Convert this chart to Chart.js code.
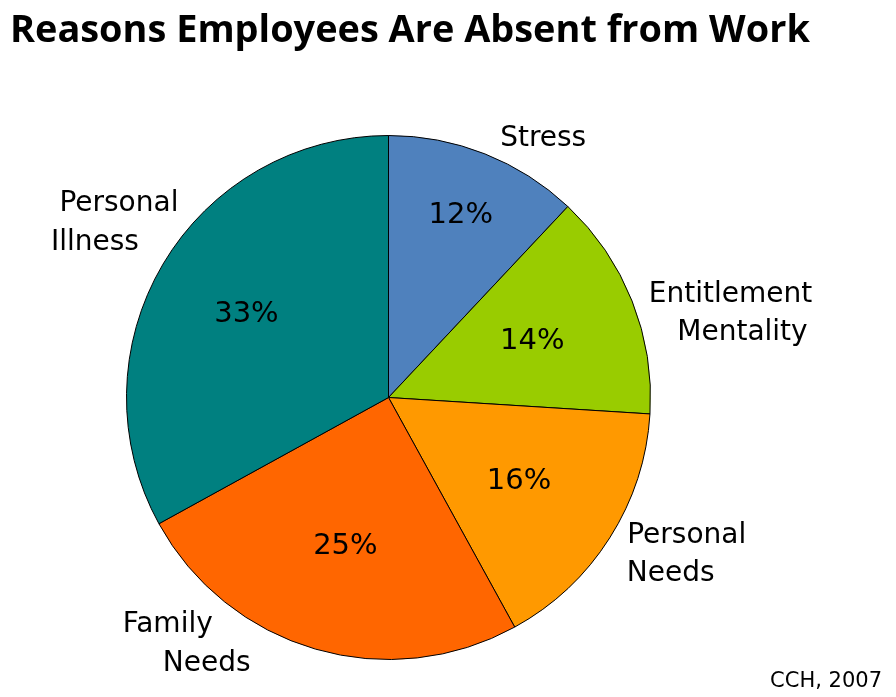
<!DOCTYPE html>
<html>
<head>
<meta charset="utf-8">
<script src="https://cdn.jsdelivr.net/npm/chart.js@4"></script>
<style>
  html, body { margin: 0; padding: 0; background: #fff; }
  canvas { display: block; }
</style>
</head>
<body>
<canvas id="chart" width="896" height="697"></canvas>
<script>
// ===== data =====
const chartTitle = "Reasons Employees Are Absent from Work";
const sourceNote = "CCH, 2007";
const categories = [["Stress"], ["Entitlement", "Mentality"], ["Personal", "Needs"], ["Family", "Needs"], ["Personal", "Illness"]];
const shares = [12, 14, 16, 25, 33];
const sliceColors = ["#4F81BD", "#99CC00", "#FF9900", "#FF6600", "#008080"];

// label placement (relative to each slice's middle)
const pctRadius = [0.75, 0.59, 0.59, 0.59, 0.63];
const nameRadius = [1.153, 1.367, 1.258, 1.213, 1.266];
const nameAngleShift = [9.2, 7.9, -4.1, 23.1, 1.3];      // degrees, clockwise
const nameLineShift = [[0], [-6, 6], [8, -8], [-19.5, 19.5], [12, -12]];

const labelFont = '"DejaVu Sans", sans-serif';

const labelsPlugin = {
    id: 'pieLabels',
    afterDatasetsDraw(chart) {
        const ctx = chart.ctx;
        const arcs = chart.getDatasetMeta(0).data;
        ctx.save();
        ctx.fillStyle = '#000';
        ctx.textBaseline = 'middle';
        ctx.textAlign = 'center';

        arcs.forEach((arc, i) => {
            const mid = (arc.startAngle + arc.endAngle) / 2;
            const r = arc.outerRadius;
            // percentage inside
            ctx.font = '29px ' + labelFont;
            ctx.fillText(shares[i] + '%', arc.x + Math.cos(mid) * r * pctRadius[i], arc.y + Math.sin(mid) * r * pctRadius[i] + 1);

            // category name outside
            const a = mid + nameAngleShift[i] * Math.PI / 180;
            const cx = arc.x + Math.cos(a) * r * nameRadius[i];
            const cy = arc.y + Math.sin(a) * r * nameRadius[i];
            const lines = categories[i];
            const lh = 38.5;
            ctx.font = '28px ' + labelFont;
            lines.forEach((txt, j) => {
                ctx.fillText(txt, cx + nameLineShift[i][j], cy + (j - (lines.length - 1) / 2) * lh + 1);
            });
        });

        // title
        ctx.textAlign = 'left';
        ctx.textBaseline = 'alphabetic';
        ctx.font = 'bold 100px "Open Sans", sans-serif';
        const w = ctx.measureText(chartTitle).width;
        const size = 100 * 800 / w;
        ctx.font = 'bold ' + size.toFixed(1) + 'px "Open Sans", sans-serif';
        ctx.fillText(chartTitle, 10, 42);

        // source
        ctx.textAlign = 'right';
        ctx.font = '21px ' + labelFont;
        ctx.fillText(sourceNote, 882, 687);
        ctx.restore();
    }
};

const chart = new Chart(document.getElementById('chart').getContext('2d'), {
    type: 'pie',
    data: {
        labels: categories.map(c => c.join(' ')),
        datasets: [{
            data: shares,
            backgroundColor: sliceColors,
            borderColor: '#000',
            borderWidth: 1,
            hoverOffset: 0
        }]
    },
    options: {
        responsive: false,
        animation: false,
        events: [],
        layout: { padding: { left: 126, right: 245, top: 135, bottom: 37 } },
        plugins: {
            legend: { display: false },
            title: { display: false },
            tooltip: { enabled: false }
        }
    },
    plugins: [labelsPlugin]
});
</script>
</body>
</html>
